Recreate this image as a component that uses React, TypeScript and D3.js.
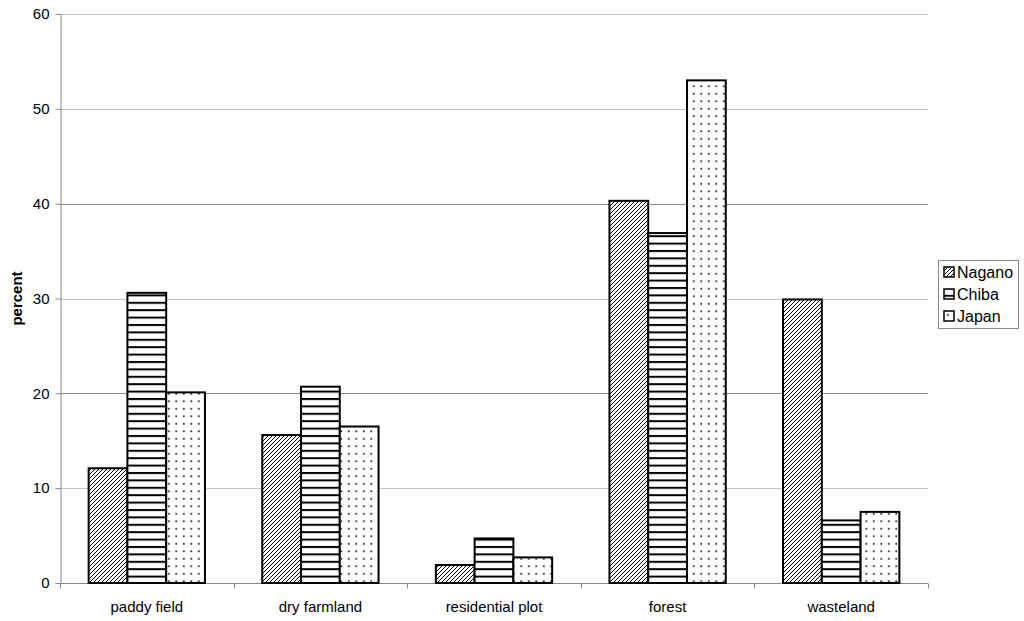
import * as d3 from 'd3';
import React, { useEffect, useRef } from 'react';

const categories: string[] = ['paddy field', 'dry farmland', 'residential plot', 'forest', 'wasteland'];
const seriesNames: string[] = ['Nagano', 'Chiba', 'Japan'];
const nagano: number[] = [12.1, 15.6, 1.9, 40.3, 29.9];
const chiba: number[] = [30.6, 20.7, 4.7, 36.9, 6.6];
const japan: number[] = [20.1, 16.5, 2.7, 53.0, 7.5];
const yTicks: number[] = [0, 10, 20, 30, 40, 50, 60];

const patternIds = ['pat-diag', 'pat-horiz', 'pat-dots'];

export default function App() {
  const ref = useRef<SVGSVGElement>(null);

  useEffect(() => {
    const width = 1024;
    const height = 621;
    const margin = { top: 14, right: 96, bottom: 38, left: 60 };
    const font = 'Arial, "Liberation Sans", sans-serif';

    const svg = d3.select(ref.current).attr('width', width).attr('height', height);
    svg.selectAll('*').remove();

    svg.append('rect').attr('width', width).attr('height', height).attr('fill', '#fff');

    // patterns
    const defs = svg.append('defs');
    const diag = defs
      .append('pattern')
      .attr('id', patternIds[0])
      .attr('patternUnits', 'userSpaceOnUse')
      .attr('width', 4)
      .attr('height', 4);
    diag.append('rect').attr('width', 4).attr('height', 4).attr('fill', '#fff');
    diag
      .append('path')
      .attr('d', 'M-1,1 l2,-2 M0,4 l4,-4 M3,5 l2,-2')
      .attr('stroke', '#000')
      .attr('stroke-width', 1);

    const horiz = defs
      .append('pattern')
      .attr('id', patternIds[1])
      .attr('patternUnits', 'userSpaceOnUse')
      .attr('width', 8)
      .attr('height', 7.4)
      .attr('y', 583);
    horiz.append('rect').attr('width', 8).attr('height', 7.4).attr('fill', '#fff');
    horiz.append('rect').attr('y', 0).attr('width', 8).attr('height', 2).attr('fill', '#000');

    const dots = defs
      .append('pattern')
      .attr('id', patternIds[2])
      .attr('patternUnits', 'userSpaceOnUse')
      .attr('width', 7.5)
      .attr('height', 7.5);
    dots.append('rect').attr('width', 7.5).attr('height', 7.5).attr('fill', '#fff');
    dots.append('rect').attr('x', 3).attr('y', 3).attr('width', 1.6).attr('height', 1.6).attr('fill', '#000');

    const x0 = d3
      .scaleBand()
      .domain(categories)
      .range([margin.left, width - margin.right])
      .paddingInner(0)
      .paddingOuter(0);

    const groupPad = x0.bandwidth() * 0.165;
    const x1 = d3
      .scaleBand()
      .domain(seriesNames)
      .range([groupPad, x0.bandwidth() - groupPad]);

    const y = d3
      .scaleLinear()
      .domain([0, 60])
      .range([height - margin.bottom, margin.top]);

    // gridlines
    svg
      .append('g')
      .selectAll('line')
      .data(yTicks.filter((t) => t > 0))
      .join('line')
      .attr('x1', margin.left)
      .attr('x2', width - margin.right)
      .attr('y1', (d) => Math.round(y(d)) + 0.5)
      .attr('y2', (d) => Math.round(y(d)) + 0.5)
      .attr('stroke', (d) => (d === 20 || d === 40 ? '#8c8c8c' : '#c4c4c4'))
      .attr('stroke-width', 1);

    // y axis
    const yAxis = d3
      .axisLeft(y)
      .tickValues(yTicks)
      .tickSize(5)
      .tickPadding(6)
      .tickFormat(d3.format('d'));
    const gy = svg
      .append('g')
      .attr('transform', `translate(${margin.left + 0.5},0)`)
      .call(yAxis);
    gy.selectAll('path, line').attr('stroke', '#888');
    gy.selectAll('text').attr('font-family', font).attr('font-size', 15).attr('fill', '#000');

    // x axis
    const gx = svg.append('g').attr('transform', `translate(0,${Math.round(y(0)) + 0.5})`);
    gx.append('line')
      .attr('x1', margin.left)
      .attr('x2', width - margin.right)
      .attr('stroke', '#888');
    const boundaries = categories.map((c) => x0(c) ?? 0).concat([width - margin.right]);
    gx.selectAll('line.tick')
      .data(boundaries)
      .join('line')
      .attr('class', 'tick')
      .attr('x1', (d) => Math.round(d) + 0.5)
      .attr('x2', (d) => Math.round(d) + 0.5)
      .attr('y1', 0)
      .attr('y2', 5)
      .attr('stroke', '#888');
    gx.selectAll('text')
      .data(categories)
      .join('text')
      .attr('x', (d) => (x0(d) ?? 0) + x0.bandwidth() / 2)
      .attr('y', 28.5)
      .attr('text-anchor', 'middle')
      .attr('font-family', font)
      .attr('font-size', 15)
      .text((d) => d);

    // bars
    const seriesValues = [nagano, chiba, japan];
    const rows = categories.flatMap((c, ci) =>
      seriesNames.map((s, si) => ({ cat: c, series: s, si, value: seriesValues[si][ci] })),
    );
    svg
      .append('g')
      .selectAll('rect')
      .data(rows)
      .join('rect')
      .attr('x', (d) => (x0(d.cat) ?? 0) + (x1(d.series) ?? 0))
      .attr('y', (d) => y(d.value))
      .attr('width', x1.bandwidth())
      .attr('height', (d) => y(0) - y(d.value))
      .attr('fill', (d) => `url(#${patternIds[d.si]})`)
      .attr('stroke', '#000')
      .attr('stroke-width', 2);

    // y label
    svg
      .append('text')
      .attr('transform', `translate(22,${(margin.top + height - margin.bottom) / 2}) rotate(-90)`)
      .attr('text-anchor', 'middle')
      .attr('font-family', font)
      .attr('font-size', 15)
      .attr('font-weight', 'bold')
      .text('percent');

    // legend
    const legend = svg.append('g').attr('transform', 'translate(938,260)');
    legend
      .append('rect')
      .attr('x', 0.5)
      .attr('y', 0.5)
      .attr('width', 80)
      .attr('height', 68)
      .attr('fill', '#fff')
      .attr('stroke', '#888');
    const item = legend
      .selectAll('g')
      .data(seriesNames)
      .join('g')
      .attr('transform', (_, i) => `translate(6,${7 + i * 22})`);
    item
      .append('rect')
      .attr('width', 10)
      .attr('height', 10)
      .attr('fill', (_, i) => `url(#${patternIds[i]})`)
      .attr('stroke', '#000')
      .attr('stroke-width', 1.5);
    item
      .append('text')
      .attr('x', 13)
      .attr('y', 11)
      .attr('font-family', font)
      .attr('font-size', 16)
      .text((d) => d);
  }, []);

  return (
    <div style={{ position: 'fixed', left: 0, top: 0 }}>
      <svg ref={ref} style={{ display: 'block' }}></svg>
    </div>
  );
}
